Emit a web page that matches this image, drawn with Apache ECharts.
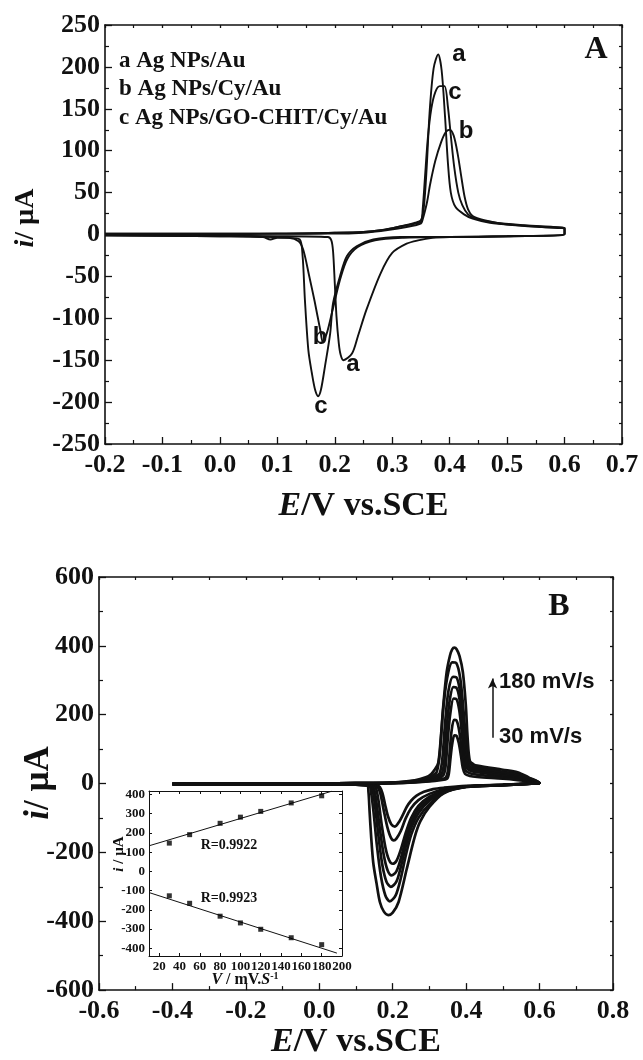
<!DOCTYPE html>
<html>
<head>
<meta charset="utf-8">
<script src="https://cdn.jsdelivr.net/npm/echarts@6/dist/echarts.min.js"></script>
<style>
  html, body { margin: 0; padding: 0; background: #fff; }
  #chart { width: 643px; height: 1060px; }
</style>
</head>
<body>
<div id="chart"></div>
<script>
// ---- panel A : three CVs, [E (V), i (uA)], anodic sweep then cathodic sweep
const cvA_a = [
  [-0.2, 1], [0.0, 1], [0.1, 1], [0.2, 2], [0.25, 3], [0.28, 5], [0.31, 9], [0.34, 14], [0.35, 17],
  [0.355, 32], [0.36, 80], [0.365, 145], [0.372, 198], [0.38, 215], [0.386, 196], [0.392, 140],
  [0.397, 85], [0.402, 50], [0.41, 33], [0.425, 24], [0.44, 19], [0.47, 14], [0.52, 11], [0.58, 8], [0.6, 7],
  [0.6, 0], [0.5, -2], [0.4, -3], [0.37, -4], [0.345, -7], [0.325, -11], [0.3, -22], [0.28, -46],
  [0.255, -90], [0.24, -122], [0.23, -142], [0.215, -150], [0.21, -143], [0.207, -130], [0.203, -98],
  [0.2, -58], [0.197, -20], [0.194, -7], [0.188, -3], [0.1, -2], [-0.2, -1]
];
const cvA_b = [
  [-0.2, 0], [0.0, 0], [0.1, 1], [0.2, 1], [0.25, 2], [0.28, 4], [0.31, 7], [0.34, 11], [0.35, 13],
  [0.353, 18], [0.357, 28], [0.361, 40], [0.366, 60], [0.375, 88], [0.385, 110], [0.393, 122], [0.4, 125],
  [0.407, 118], [0.414, 96], [0.42, 70], [0.426, 45], [0.432, 30], [0.44, 22], [0.46, 17], [0.5, 12], [0.56, 9], [0.6, 8],
  [0.6, 0], [0.5, -2], [0.4, -3], [0.32, -4], [0.27, -7], [0.24, -15], [0.222, -29], [0.21, -52],
  [0.199, -82], [0.19, -108], [0.185, -120], [0.179, -128], [0.175, -115], [0.165, -80], [0.155, -48],
  [0.145, -18], [0.137, -8], [0.12, -4], [0.0, -2], [-0.2, -1]
];
const cvA_c = [
  [-0.2, 1], [0.0, 1], [0.1, 1], [0.2, 2], [0.25, 3], [0.28, 5], [0.31, 9], [0.34, 13], [0.35, 15],
  [0.353, 30], [0.357, 68], [0.362, 115], [0.368, 150], [0.375, 170], [0.383, 177], [0.391, 177],
  [0.397, 152], [0.402, 118], [0.408, 80], [0.415, 50], [0.422, 35], [0.432, 24], [0.445, 19], [0.48, 14],
  [0.53, 11], [0.58, 9], [0.6, 8],
  [0.6, 1], [0.5, -2], [0.4, -3], [0.314, -3], [0.267, -6], [0.238, -14], [0.221, -26], [0.209, -50],
  [0.197, -82], [0.192, -118], [0.183, -157], [0.176, -185], [0.171, -193], [0.166, -186], [0.16, -165],
  [0.154, -138], [0.148, -78], [0.144, -26], [0.139, -6], [0.12, -4], [0.1, -4], [0.088, -6], [0.075, -3],
  [0.0, -2], [-0.2, -1]
];

// ---- panel B : CVs at 30 ... 180 mV/s
const cvB30 = [
  [-0.4, -1], [-0.2, 0], [0.0, 0], [0.1, 0], [0.2, 1], [0.26, 3], [0.3, 6], [0.33, 10], [0.348, 14],
  [0.353, 30], [0.357, 70], [0.362, 115], [0.368, 140], [0.374, 138], [0.38, 118], [0.386, 80], [0.391, 45],
  [0.397, 28], [0.41, 22], [0.43, 19], [0.5, 14], [0.54, 10], [0.57, 6], [0.6, 1],
  [0.6, 0], [0.5, -3], [0.4, -7], [0.34, -12], [0.31, -16], [0.285, -24], [0.265, -35], [0.25, -50],
  [0.238, -68], [0.228, -90], [0.218, -110], [0.206, -125], [0.196, -118], [0.187, -95], [0.179, -60],
  [0.172, -28], [0.165, -10], [0.155, -4], [0.0, -2], [-0.4, -2]
];
const cvB50 = [
  [-0.4, -1], [-0.2, 0], [0.0, 0], [0.1, 0], [0.2, 1], [0.26, 4], [0.3, 8], [0.33, 13], [0.344, 17],
  [0.35, 35], [0.355, 90], [0.36, 150], [0.367, 185], [0.373, 184], [0.38, 160], [0.386, 115], [0.392, 65],
  [0.398, 38], [0.41, 30], [0.43, 26], [0.5, 18], [0.54, 14], [0.57, 8], [0.6, 1],
  [0.6, 0], [0.5, -4], [0.4, -8], [0.34, -16], [0.3, -30], [0.27, -48], [0.25, -72], [0.235, -102],
  [0.222, -138], [0.21, -160], [0.203, -165], [0.195, -157], [0.185, -125], [0.175, -75], [0.166, -28],
  [0.158, -8], [0.15, -4], [0.0, -2], [-0.4, -2]
];
const cvB80 = [
  [-0.4, -1], [-0.2, 0], [0.0, 0], [0.1, 1], [0.2, 2], [0.26, 5], [0.3, 10], [0.325, 17], [0.338, 24],
  [0.344, 50], [0.35, 130], [0.357, 205], [0.366, 247], [0.373, 246], [0.381, 215], [0.388, 150], [0.394, 85],
  [0.4, 48], [0.41, 38], [0.43, 33], [0.5, 23], [0.54, 18], [0.57, 10], [0.6, 1],
  [0.6, 0], [0.5, -4], [0.4, -8], [0.34, -20], [0.3, -38], [0.27, -65], [0.25, -100], [0.235, -145],
  [0.222, -192], [0.21, -225], [0.2, -233], [0.19, -222], [0.18, -185], [0.17, -120], [0.162, -55],
  [0.155, -15], [0.148, -5], [0.0, -2], [-0.4, -2]
];
const cvB100 = [
  [-0.4, -1], [-0.2, 0], [0.0, 0], [0.1, 1], [0.2, 2], [0.26, 6], [0.3, 12], [0.322, 20], [0.333, 27],
  [0.34, 60], [0.347, 160], [0.355, 240], [0.365, 280], [0.373, 279], [0.382, 245], [0.389, 170], [0.396, 95],
  [0.402, 55], [0.412, 42], [0.43, 37], [0.5, 26], [0.54, 21], [0.57, 12], [0.6, 1],
  [0.6, 0], [0.5, -5], [0.4, -9], [0.34, -22], [0.3, -44], [0.27, -75], [0.25, -115], [0.235, -165],
  [0.222, -218], [0.21, -255], [0.197, -267], [0.186, -252], [0.176, -210], [0.166, -140], [0.157, -65],
  [0.15, -18], [0.143, -5], [0.0, -2], [-0.4, -2]
];
const cvB120 = [
  [-0.4, -1], [-0.2, 0], [0.0, 0], [0.1, 1], [0.2, 2], [0.26, 7], [0.3, 14], [0.318, 23], [0.328, 30],
  [0.335, 70], [0.343, 180], [0.352, 270], [0.364, 310], [0.373, 309], [0.383, 270], [0.391, 185], [0.398, 105],
  [0.404, 60], [0.414, 46], [0.43, 42], [0.5, 30], [0.54, 24], [0.57, 14], [0.6, 1],
  [0.6, 0], [0.5, -5], [0.4, -9], [0.34, -24], [0.3, -50], [0.27, -86], [0.25, -130], [0.235, -185],
  [0.222, -243], [0.21, -285], [0.195, -300], [0.183, -285], [0.172, -238], [0.162, -160], [0.153, -75],
  [0.146, -22], [0.139, -6], [0.0, -2], [-0.4, -2]
];
const cvB150 = [
  [-0.4, -1], [-0.2, 0], [0.0, 0], [0.1, 1], [0.2, 3], [0.26, 8], [0.3, 17], [0.312, 26], [0.32, 34],
  [0.328, 85], [0.337, 210], [0.348, 305], [0.362, 352], [0.373, 350], [0.384, 305], [0.393, 210], [0.4, 120],
  [0.406, 68], [0.416, 52], [0.43, 47], [0.5, 34], [0.54, 28], [0.57, 16], [0.6, 1],
  [0.6, 0], [0.5, -5], [0.4, -10], [0.34, -26], [0.3, -60], [0.27, -100], [0.25, -150], [0.235, -212],
  [0.222, -275], [0.208, -325], [0.192, -342], [0.18, -325], [0.168, -270], [0.157, -180], [0.148, -85],
  [0.141, -25], [0.135, -6], [0.0, -2], [-0.4, -2]
];
const cvB180 = [
  [-0.4, -1], [-0.2, 0], [0.0, 0], [0.1, 1], [0.2, 3], [0.26, 9], [0.29, 18], [0.305, 28], [0.314, 40],
  [0.324, 60], [0.331, 133], [0.338, 229], [0.347, 324], [0.356, 372], [0.362, 390], [0.368, 395], [0.374, 390],
  [0.382, 370], [0.391, 324], [0.399, 229], [0.404, 133], [0.41, 66], [0.42, 56], [0.43, 52], [0.5, 40],
  [0.54, 33], [0.57, 18], [0.6, 1],
  [0.6, 0], [0.5, -5], [0.4, -10], [0.338, -29], [0.3, -68], [0.275, -110], [0.26, -155], [0.238, -249],
  [0.216, -344], [0.2, -375], [0.188, -382], [0.176, -372], [0.165, -344], [0.156, -290], [0.147, -230],
  [0.141, -150], [0.137, -80], [0.134, -25], [0.13, -6], [0.0, -2], [-0.4, -2]
];

// ---- inset : peak current vs scan rate
const scanRates = [30, 50, 80, 100, 120, 150, 180];
const anodicPeaks = [147, 191, 250, 282, 312, 356, 393];
const cathodicPeaks = [-127, -166, -233, -268, -301, -345, -381];
const anodicFit = [[10, 133], [190, 417]];
const cathodicFit = [[10, -110], [195, -425]];

const insetXTicks = [20, 40, 60, 80, 100, 120, 140, 160, 180, 200];
const insetYTicks = [400, 300, 200, 100, 0, -100, -200, -300, -400];

const ink = '#111';
const serif = '"Liberation Serif", "Times New Roman", serif';
const sans = '"Liberation Sans", Arial, sans-serif';

function fmt1(v) { return Math.abs(v) < 1e-9 ? '0.0' : v.toFixed(1); }

function mainAxis(dim, gridIndex, min, max, interval, fontSize, mirror) {
  const ax = {
    type: 'value', gridIndex: gridIndex, min: min, max: max, interval: interval,
    position: dim === 'x' ? (mirror ? 'top' : 'bottom') : (mirror ? 'right' : 'left'),
    axisLine: { show: true, onZero: false, lineStyle: { color: ink, width: 1.6 } },
    axisTick: { show: true, inside: true, length: mirror ? 3 : 7, lineStyle: { color: ink, width: 1.3 } },
    minorTick: { show: true, splitNumber: 2, length: mirror ? 3 : 4, lineStyle: { color: ink, width: 1.2 } },
    splitLine: { show: false },
    axisLabel: {
      show: !mirror, color: ink, fontFamily: serif, fontWeight: 'bold', fontSize: fontSize,
      margin: dim === 'x' ? 8 : 5, showMinLabel: true, showMaxLabel: true
    }
  };
  if (dim === 'x') ax.axisLabel.formatter = fmt1;
  return ax;
}

function xTitle(ax, gap) {
  ax.name = '{it|E}/V vs.SCE';
  ax.nameLocation = 'middle';
  ax.nameGap = gap;
  ax.nameTextStyle = {
    color: ink, fontFamily: serif, fontWeight: 'bold', fontSize: 34,
    rich: { it: { fontFamily: serif, fontWeight: 'bold', fontStyle: 'italic', fontSize: 34, color: ink } }
  };
  return ax;
}

function insetAxis(dim, min, max, ticks, mirror) {
  return {
    type: 'value', gridIndex: 2, min: min, max: max,
    position: dim === 'x' ? (mirror ? 'top' : 'bottom') : (mirror ? 'right' : 'left'),
    axisLine: { show: true, onZero: false, lineStyle: { color: ink, width: 1 } },
    axisTick: { show: true, inside: true, length: 3, customValues: ticks, lineStyle: { color: ink, width: 1 } },
    splitLine: { show: false },
    axisLabel: {
      show: !mirror, customValues: ticks, color: ink, fontFamily: serif, fontWeight: 'bold',
      fontSize: 13, margin: 4
    }
  };
}

function cvSeries(data, xi, yi, width) {
  return {
    type: 'line', xAxisIndex: xi, yAxisIndex: yi, data: data,
    showSymbol: false, smooth: 0.3, silent: true, z: 3,
    lineStyle: { color: ink, width: width }
  };
}

const xAxes = [
  xTitle(mainAxis('x', 0, -0.2, 0.7, 0.1, 26, false), 45),
  mainAxis('x', 0, -0.2, 0.7, 0.1, 26, true),
  xTitle(mainAxis('x', 1, -0.6, 0.8, 0.2, 26, false), 33),
  mainAxis('x', 1, -0.6, 0.8, 0.2, 26, true),
  insetAxis('x', 10, 200, insetXTicks, false),
  insetAxis('x', 10, 200, insetXTicks, true)
];
const yAxes = [
  mainAxis('y', 0, -250, 250, 50, 26, false),
  mainAxis('y', 0, -250, 250, 50, 26, true),
  mainAxis('y', 1, -600, 600, 200, 26, false),
  mainAxis('y', 1, -600, 600, 200, 26, true),
  insetAxis('y', -440, 418, insetYTicks, false),
  insetAxis('y', -440, 418, insetYTicks, true)
];

const seriesB = [cvB30, cvB50, cvB80, cvB100, cvB120, cvB150, cvB180].map(function (d) {
  return cvSeries(d, 2, 2, 2.7);
});
seriesB[6].markLine = {
  silent: true, symbol: ['none', 'arrow'], symbolSize: [7, 10],
  lineStyle: { color: ink, width: 1.5, type: 'solid' }, label: { show: false },
  data: [[{ coord: [0.472, 133] }, { coord: [0.472, 305] }]]
};

function pairs(xs, ys) { return xs.map(function (x, k) { return [x, ys[k]]; }); }

const insetSeries = [
  { type: 'scatter', xAxisIndex: 4, yAxisIndex: 4, data: pairs(scanRates, anodicPeaks), symbol: 'rect', symbolSize: 5, itemStyle: { color: '#000' }, z: 6 },
  { type: 'scatter', xAxisIndex: 4, yAxisIndex: 4, data: pairs(scanRates, cathodicPeaks), symbol: 'rect', symbolSize: 5, itemStyle: { color: '#000' }, z: 6 },
  { type: 'line', xAxisIndex: 4, yAxisIndex: 4, data: anodicFit, showSymbol: false, lineStyle: { color: ink, width: 1 }, z: 6 },
  { type: 'line', xAxisIndex: 4, yAxisIndex: 4, data: cathodicFit, showSymbol: false, lineStyle: { color: ink, width: 1 }, z: 6 }
];

function txt(text, x, y, font, size, opts) {
  const o = opts || {};
  return {
    type: 'text', x: x, y: y, rotation: o.rotation || 0, z: 10,
    style: {
      text: text, fill: ink, fontFamily: font, fontWeight: 'bold', fontSize: size,
      align: o.align || 'center', verticalAlign: 'middle', rich: o.rich
    }
  };
}
const itRich = function (size) {
  return { it: { fontFamily: serif, fontWeight: 'bold', fontStyle: 'italic', fontSize: size, fill: ink } };
};

const graphics = [
  // panel A
  txt('{it|i}/ \u00b5A', 26, 218, serif, 28, { rotation: Math.PI / 2, rich: itRich(28) }),
  txt('a Ag NPs/Au', 119, 61, serif, 23, { align: 'left' }),
  txt('b Ag NPs/Cy/Au', 119, 89, serif, 23, { align: 'left' }),
  txt('c Ag NPs/GO-CHIT/Cy/Au', 119, 118, serif, 23, { align: 'left' }),
  txt('A', 596, 50, serif, 32),
  txt('a', 459, 54, sans, 24), txt('c', 455, 92, sans, 24), txt('b', 466, 131, sans, 24),
  txt('b', 320, 337, sans, 24), txt('a', 353, 364, sans, 24), txt('c', 321, 406, sans, 24),
  // panel B
  txt('{it|i}/ \u00b5A', 39, 783, serif, 35, { rotation: Math.PI / 2, rich: itRich(35) }),
  txt('B', 559, 607, serif, 32),
  txt('180 mV/s', 499, 682, sans, 22, { align: 'left' }),
  txt('30 mV/s', 499, 737, sans, 22, { align: 'left' }),
  // inset
  txt('R=0.9922', 229, 845, serif, 14),
  txt('R=0.9923', 229, 898, serif, 14),
  txt('{it|i} / \u00b5A', 119, 854, serif, 15, { rotation: Math.PI / 2, rich: itRich(15) }),
  txt('{it|V} / mV.{it|S}{sup|-1}', 245, 980, serif, 16, {
    rich: Object.assign(itRich(16), { sup: { fontFamily: serif, fontWeight: 'bold', fontSize: 10, fill: ink, verticalAlign: 'top', padding: [0, 0, 8, 0] } })
  })
];

const chart = echarts.init(document.getElementById('chart'), null, { renderer: 'canvas' });
chart.setOption({
  animation: false,
  backgroundColor: '#fff',
  grid: [
    { left: 105, top: 25, width: 517, height: 419, show: false },
    { left: 99, top: 577, width: 514, height: 419, show: false },
    { left: 149, top: 791, width: 193, height: 165, show: false }
  ],
  xAxis: xAxes,
  yAxis: yAxes,
  series: [
    cvSeries(cvA_a, 0, 0, 1.9),
    cvSeries(cvA_b, 0, 0, 1.9),
    cvSeries(cvA_c, 0, 0, 1.9)
  ].concat(seriesB, insetSeries),
  graphic: graphics
});
</script>
</body>
</html>
